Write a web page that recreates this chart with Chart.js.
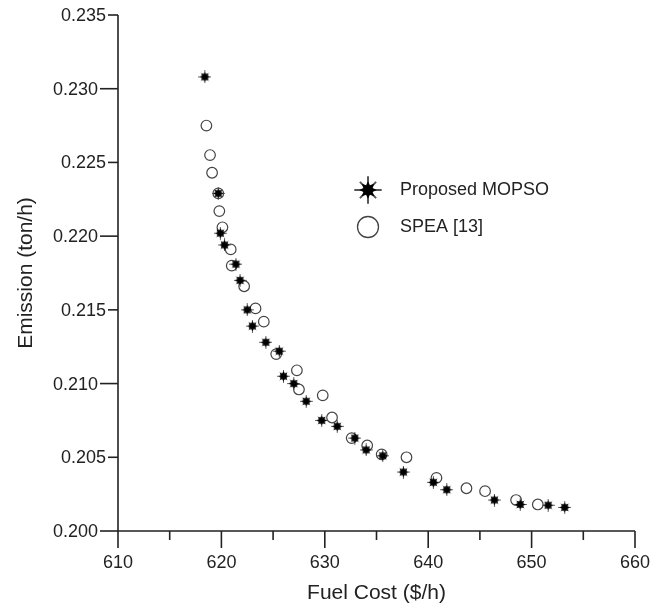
<!DOCTYPE html>
<html>
<head>
<meta charset="utf-8">
<script src="https://cdn.jsdelivr.net/npm/chart.js@4.4.1/dist/chart.umd.min.js"></script>
<style>
  html, body { margin: 0; padding: 0; background: #fff; }
</style>
</head>
<body>
<canvas id="paretoChart" width="665" height="608"></canvas>
<script>
// Proposed MOPSO front
var mopsoCost = [618.4, 619.7, 619.9, 620.3, 621.4, 621.8, 622.5, 623.0, 624.3, 625.6, 626.0,
  627.0, 628.2, 629.7, 631.2, 632.9, 634.0, 635.6, 637.6, 640.5, 641.8, 646.4, 648.9, 651.6, 653.2];
var mopsoEmission = [0.2308, 0.2229, 0.2202, 0.2194, 0.2181, 0.2170, 0.2150, 0.2139, 0.2128, 0.2122, 0.2105,
  0.2100, 0.2088, 0.2075, 0.2071, 0.2063, 0.2055, 0.2051, 0.2040, 0.2033, 0.2028, 0.2021, 0.2018, 0.20175, 0.2016];

// SPEA [13] front
var speaCost = [618.55, 618.9, 619.1, 619.7, 619.8, 620.1, 620.9, 621.0, 622.2, 623.3, 624.1, 625.3,
  627.3, 627.5, 629.8, 630.7, 632.6, 634.1, 635.5, 637.9, 640.8, 643.7, 645.5, 648.5, 650.6];
var speaEmission = [0.2275, 0.2255, 0.2243, 0.2229, 0.2217, 0.2206, 0.2191, 0.2180, 0.2166, 0.2151, 0.2142, 0.2120,
  0.2109, 0.2096, 0.2092, 0.2077, 0.2063, 0.2058, 0.2052, 0.2050, 0.2036, 0.2029, 0.2027, 0.2021, 0.2018];

var xTicks = [610, 615, 620, 625, 630, 635, 640, 645, 650, 655, 660];
var xTickLabels = ["610", "", "620", "", "630", "", "640", "", "650", "", "660"];
var yTicks = [0.200, 0.205, 0.210, 0.215, 0.220, 0.225, 0.230, 0.235];
var yTickLabels = ["0.200", "0.205", "0.210", "0.215", "0.220", "0.225", "0.230", "0.235"];

var FONT = "'Liberation Sans', Arial, sans-serif";
var INK = "#222";

function toPoints(xs, ys) {
  return xs.map(function(x, i) { return { x: x, y: ys[i] }; });
}

// asterisk marker: black eight-point centre plus thin spokes
function makeStar(size, outer, inner) {
  var c = document.createElement("canvas");
  c.width = size;
  c.height = size;
  var g = c.getContext("2d");
  var m = size / 2;
  g.strokeStyle = "#555";
  g.lineWidth = Math.max(1, size / 14);
  for (var i = 0; i < 8; i++) {
    var a = i * Math.PI / 4;
    var len = (i % 2 === 0 ? 0.98 : 0.82) * m;
    g.beginPath();
    g.moveTo(m, m);
    g.lineTo(m + Math.cos(a) * len, m + Math.sin(a) * len);
    g.stroke();
  }
  g.fillStyle = "#000";
  g.beginPath();
  for (var k = 0; k < 16; k++) {
    var r = (k % 2 === 0 ? outer : inner) * m;
    var b = k * Math.PI / 8;
    var px = m + Math.cos(b) * r;
    var py = m + Math.sin(b) * r;
    if (k === 0) g.moveTo(px, py); else g.lineTo(px, py);
  }
  g.closePath();
  g.fill();
  return c;
}

var starSmall = makeStar(13, 0.78, 0.5);
var starBig = makeStar(28, 0.62, 0.36);

var axisPlugin = {
  id: "axisPlugin",
  afterDraw: function(chart) {
    var ctx = chart.ctx;
    var xs = chart.scales.x;
    var ys = chart.scales.y;
    var xLeft = xs.getPixelForValue(xTicks[0]);
    var xRight = xs.getPixelForValue(xTicks[xTicks.length - 1]);
    var yBottom = ys.getPixelForValue(yTicks[0]);
    var yTop = ys.getPixelForValue(yTicks[yTicks.length - 1]);

    ctx.save();
    ctx.strokeStyle = INK;
    ctx.lineWidth = 1.6;
    ctx.beginPath();
    ctx.moveTo(xLeft, yTop);
    ctx.lineTo(xLeft, yBottom);
    ctx.lineTo(xRight, yBottom);
    ctx.stroke();

    ctx.fillStyle = INK;
    ctx.font = "18px " + FONT;

    // x ticks
    ctx.textAlign = "center";
    ctx.textBaseline = "middle";
    xTicks.forEach(function(v, i) {
      var px = xs.getPixelForValue(v);
      var len = xTickLabels[i] ? 17 : 9;
      ctx.beginPath();
      ctx.moveTo(px, yBottom);
      ctx.lineTo(px, yBottom + len);
      ctx.stroke();
      if (xTickLabels[i]) ctx.fillText(xTickLabels[i], px, yBottom + 32);
    });

    // y ticks
    ctx.textAlign = "right";
    yTicks.forEach(function(v, i) {
      var py = ys.getPixelForValue(v);
      var len = i % 2 === 0 ? 18 : 10;
      ctx.beginPath();
      ctx.moveTo(xLeft, py);
      ctx.lineTo(xLeft - len, py);
      ctx.stroke();
      ctx.fillText(yTickLabels[i], xLeft - len - 2, py + 1);
    });

    // legend
    var ds = chart.data.datasets;
    ctx.textAlign = "left";
    ctx.drawImage(starBig, 368 - 14, 190 - 14);
    ctx.fillText(ds[0].label, 400, 190);
    ctx.beginPath();
    ctx.strokeStyle = "#444";
    ctx.lineWidth = 1.3;
    ctx.arc(368, 227, 10.5, 0, Math.PI * 2);
    ctx.stroke();
    ctx.fillText(ds[1].label, 400, 227);
    ctx.restore();
  }
};

var ctx = document.getElementById("paretoChart").getContext("2d");
var paretoChart = new Chart(ctx, {
  type: "scatter",
  data: {
    datasets: [
      {
        label: "Proposed MOPSO",
        data: toPoints(mopsoCost, mopsoEmission),
        pointStyle: starSmall,
        pointRadius: 6
      },
      {
        label: "SPEA [13]",
        data: toPoints(speaCost, speaEmission),
        pointStyle: "circle",
        pointRadius: 5.3,
        borderColor: "#444",
        borderWidth: 1.2,
        backgroundColor: "rgba(0,0,0,0)"
      }
    ]
  },
  options: {
    responsive: false,
    animation: false,
    layout: { padding: { top: 15, right: 30, left: 0, bottom: 0 } },
    plugins: {
      legend: { display: false },
      tooltip: { enabled: false }
    },
    scales: {
      x: {
        type: "linear",
        min: 610,
        max: 660,
        grid: { display: false },
        border: { display: false },
        ticks: { display: false },
        title: {
          display: true,
          text: "Fuel Cost ($/h)",
          color: INK,
          font: { family: FONT, size: 21 },
          padding: { top: 0, bottom: 2 }
        },
        afterFit: function(scale) { scale.height = 77; }
      },
      y: {
        type: "linear",
        min: 0.200,
        max: 0.235,
        grid: { display: false },
        border: { display: false },
        ticks: { display: false },
        title: {
          display: true,
          text: "Emission (ton/h)",
          color: INK,
          font: { family: FONT, size: 21 },
          padding: { top: 14, bottom: 0 }
        },
        afterFit: function(scale) { scale.width = 118; }
      }
    }
  },
  plugins: [axisPlugin]
});
</script>
</body>
</html>
